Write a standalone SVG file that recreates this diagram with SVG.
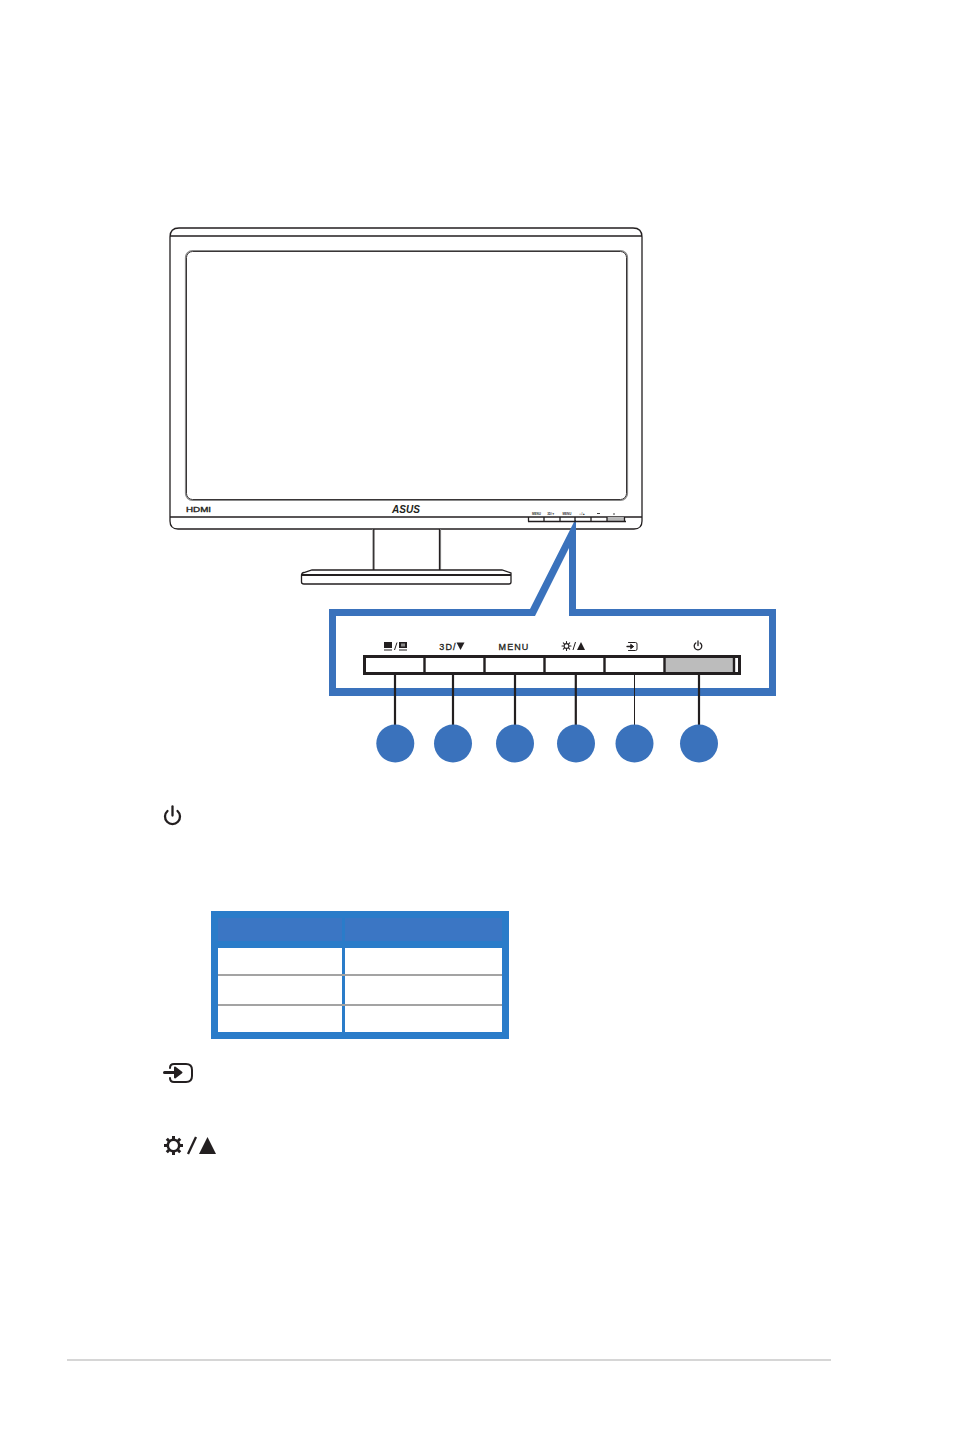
<svg xmlns="http://www.w3.org/2000/svg" width="954" height="1437" viewBox="0 0 954 1437">
<style>
.ln{fill:none;stroke:#231f20;stroke-width:1.3}
.gr{fill:none;stroke:#8a8a8a;stroke-width:1.2}
.con{stroke:#231f20;stroke-width:2.2;fill:none}
.dot{fill:#3a72bc}
.lab{font-family:"Liberation Sans","DejaVu Sans",sans-serif;font-size:9px;fill:#231f20;stroke:#231f20;stroke-width:.3;text-anchor:middle}
.tiny{font-family:"Liberation Sans",sans-serif;font-size:3px;font-weight:bold;fill:#333;text-anchor:middle}
.ic{fill:none;stroke:#231f20;stroke-linecap:round;stroke-linejoin:round}
</style>
<rect width="954" height="1437" fill="#fff"/>
<g id="monitor">
<path class="ln" d="M179 228H633Q642 228 642 237V521Q642 529 634 529H178Q170 529 170 521V237Q170 228 179 228Z"/>
<path class="ln" d="M170 236H642M170 517H642"/>
<rect class="gr" x="185.500" y="250.500" width="442" height="250" rx="7"/>
<rect x="186.500" y="251.500" width="440" height="248" rx="6" fill="none" stroke="#231f20" stroke-width=".9"/>
<text x="198.500" y="511.500" font-family="Liberation Sans,sans-serif" font-size="6.500" text-anchor="middle" textLength="25" lengthAdjust="spacingAndGlyphs" fill="#231f20" stroke="#231f20" stroke-width=".3">HDMI</text>
<text x="406" y="513" font-family="Liberation Sans,sans-serif" font-size="11" font-weight="bold" font-style="italic" text-anchor="middle" textLength="28" lengthAdjust="spacingAndGlyphs" fill="#231f20">ASUS</text>
<path class="gr" d="M373 529V570M440.500 529V570"/>
<path class="ln" d="M373.800 529V570M439.500 529V570"/>
<path class="ln" d="M301.500 575Q302 572.500 304 572.500L312 570H502L511 573V582Q511 584 509 584H304Q301.500 584 301.500 582Z"/>
<path d="M302 575H511" stroke="#231f20" stroke-width="2" fill="none"/>
</g>
<g id="callout">
<path fill="#3a72bc" fill-rule="evenodd" d="M329 609H530L575 520H576V609H776V696H329ZM336 616V688H769V616H569V548L535 616Z"/>
</g>
<g id="monitor-buttons">
<rect x="607" y="517" width="17" height="4" fill="#b9b9b9"/>
<path class="ln" d="M528 521.500H626M528.500 517V521.500M544 517V521.500M560 517V521.500M575 517V521.500M591 517V521.500M607 517V521.500M624.500 517V521.500"/>
<text class="tiny" x="536.500" y="515">MENU</text>
<text class="tiny" x="551" y="515">3D/▼</text>
<text class="tiny" x="567" y="515">MENU</text>
<text class="tiny" x="582" y="515">☼/▲</text>
<path d="M597 513.500h3M614 513v2" stroke="#444" stroke-width="1" fill="none"/>
</g>
<g id="button-bar">
<rect x="664" y="656" width="69" height="17" fill="#bcbcbc"/>
<rect x="364.500" y="656.500" width="375" height="17" fill="none" stroke="#231f20" stroke-width="3"/>
<path d="M424.500 656V674M484.500 656V674M544.500 656V674M604.500 656V674M664.500 656V674M734 656V674" stroke="#231f20" stroke-width="2.400" fill="none"/>
</g>
<g id="button-labels">
<g id="label-mode">
<rect x="384" y="642" width="8" height="6" fill="#231f20"/><path d="M384 650H392" stroke="#231f20" stroke-width="1"/>
<path d="M394.500 650L397 642.500" stroke="#231f20" stroke-width="1" fill="none"/>
<rect x="399" y="642" width="8" height="6" fill="#231f20"/><rect x="401" y="643.500" width="4" height="3" fill="#8a8a8a"/><path d="M399 650H407" stroke="#231f20" stroke-width="1"/>
</g>
<g id="label-3d">
<text class="lab" x="448" y="650" style="letter-spacing:1.200px">3D/</text>
<path d="M456.500 642.500H464.500L460.500 650Z" fill="#231f20"/>
</g>
<text id="label-menu" class="lab" x="514" y="650" style="letter-spacing:1.100px">MENU</text>
<g id="label-brightness">
<circle class="ic" cx="566.500" cy="646" r="2.400" stroke-width="1.100"/>
<path class="ic" stroke-width="1.100" d="M566.500 641.500V642.800M566.500 649.200V650.500M562 646H563.300M569.700 646H571M563.300 642.800L564.300 643.800M568.700 648.200L569.700 649.200M563.300 649.200L564.300 648.200M568.700 643.800L569.700 642.800"/>
<path d="M573 650L575.500 642" stroke="#231f20" stroke-width="1" fill="none"/>
<path d="M577 650L581 642L585 650Z" fill="#231f20"/>
</g>
<g id="label-input" class="ic" stroke-width="1">
<path d="M628.500 642.500H635.500Q637 642.500 637 644V649Q637 650.500 635.500 650.500H628.500"/>
<path d="M627 646.500H633" stroke-width="1.300"/><path d="M631 644.500L633.500 646.500L631 648.500Z" fill="#231f20"/>
</g>
<g id="label-power" class="ic" stroke-width="1.300">
<path d="M698 641V645.500"/><path d="M695.800 643A3.800 3.800 0 1 0 700.200 643"/>
</g>
</g>
<g id="connectors">
<path class="con" d="M395 675V725M453 675V725M515 675V725M575.800 675V725M699 675V725"/>
<path d="M634.500 675V725" stroke="#231f20" stroke-width="1" fill="none"/>
</g>
<g id="marker-1"><circle class="dot" cx="395.300" cy="743.500" r="19"/></g>
<g id="marker-2"><circle class="dot" cx="453" cy="743.500" r="19"/></g>
<g id="marker-3"><circle class="dot" cx="515" cy="743.500" r="19"/></g>
<g id="marker-4"><circle class="dot" cx="576" cy="743.500" r="19"/></g>
<g id="marker-5"><circle class="dot" cx="634.500" cy="743.500" r="19"/></g>
<g id="marker-6"><circle class="dot" cx="699" cy="743.500" r="19"/></g>
<g id="icon-power" class="ic" stroke-width="2.300">
<path d="M172.500 806.500V815.500"/><path d="M167.500 811A7.500 7.500 0 1 0 177.500 811"/>
</g>
<g id="table">
<rect x="211" y="911" width="298" height="128" fill="#2a7cc9"/>
<rect x="218" y="918" width="124" height="23" fill="#3b76c4"/>
<rect x="345" y="918" width="157" height="23" fill="#3b76c4"/>
<rect x="218" y="948" width="124" height="84" fill="#fff"/>
<rect x="345" y="948" width="157" height="84" fill="#fff"/>
<rect x="218" y="974" width="284" height="2" fill="#a3a3a3"/>
<rect x="218" y="1004" width="284" height="2" fill="#a3a3a3"/>
</g>
<g id="icon-input" class="ic" stroke-width="2">
<path d="M170 1068Q170 1064 174 1064H186Q192 1064 192 1070V1076Q192 1082 186 1082H174Q170 1082 170 1078"/>
<path d="M164.500 1072.500H178" stroke-width="3"/>
<path d="M175 1067.500L181.500 1072.500L175 1077.500Z" fill="#231f20"/>
</g>
<g id="icon-brightness">
<circle class="ic" cx="173.500" cy="1145.500" r="5.700" stroke-width="2.500"/>
<path class="ic" stroke-width="3" style="stroke-linecap:butt" d="M173.500 1136V1139M173.500 1152V1155M164 1145.500H167M180 1145.500H183M166.800 1138.800L169 1141M178 1150L180.200 1152.200M166.800 1152.200L169 1150M178 1141L180.200 1138.800"/>
<path d="M188 1154L196 1137" stroke="#231f20" stroke-width="2.300" fill="none"/>
<path d="M199 1154L207.500 1137L216 1154Z" fill="#231f20"/>
</g>
<g id="footer">
<path d="M67 1360H831" stroke="#c9c9c9" stroke-width="1.500" fill="none"/>
</g>
</svg>
